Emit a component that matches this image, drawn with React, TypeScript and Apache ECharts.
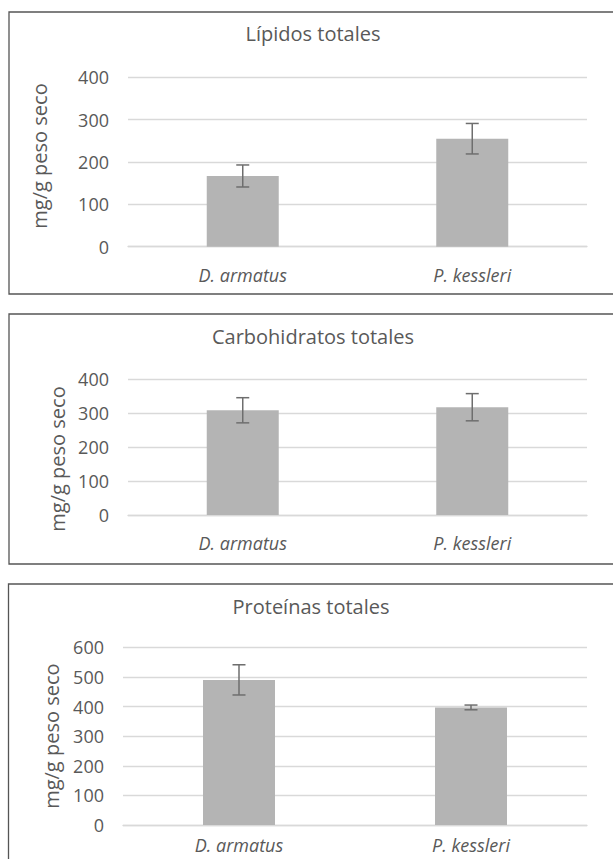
import React, { useEffect, useRef } from "react";
import * as echarts from "echarts";

const categories = ["D. armatus", "P. kessleri"];
const titles = ["Lípidos totales", "Carbohidratos totales", "Proteínas totales"];
const lipidos = [167, 255];
const lipidosErr = [26, 36];
const carbohidratos = [308, 317];
const carbohidratosErr = [37, 40];
const proteinas = [490, 397];
const proteinasErr = [51, 8];
const yMax = [400, 400, 600];
const yName = "mg/g peso seco";

const FONT = "Open Sans";
const TEXT = "#595959";
const GRID = "#d9d9d9";
const BAR = "#b4b4b4";
const ERR = "#6e6e6e";

export default function App() {
  const ref = useRef<HTMLDivElement>(null);
  useEffect(() => {
    if (!ref.current) return;
    const chart = echarts.init(ref.current, undefined, { renderer: "svg" });
    const values = [lipidos, carbohidratos, proteinas];
    const errs = [lipidosErr, carbohidratosErr, proteinasErr];
    const grids = [
      { left: 128, right: 26, top: 77.3, height: 169.4 },
      { left: 128, right: 26, top: 379, height: 136 },
      { left: 123, right: 26, top: 647.3, height: 177.7 },
    ];
    const nameGaps = [79, 57, 62];
    const namePads = [
      [0, 0, 0, 12],
      [0, 24, 0, 0],
      [0, 0, 0, 0],
    ];
    const labelMargins = [19, 19, 11];
    const titleY = [33, 336, 606.7];
    const titleX = [313, 313, 311];
    const borders = [
      { x: 9, y: 12, height: 282 },
      { x: 9, y: 314, height: 250 },
      { x: 8.5, y: 584, height: 400 },
    ];
    const option: any = {
      animation: false,
      backgroundColor: "#ffffff",
      textStyle: { fontFamily: FONT },
      title: titles.map((t, i) => ({
        text: t,
        left: titleX[i],
        top: titleY[i] - 12,
        textAlign: "center",
        padding: 0,
        textStyle: { fontFamily: FONT, fontSize: 20, fontWeight: "normal", color: TEXT, lineHeight: 24 },
      })),
      graphic: borders.map((b) => ({
        type: "rect",
        silent: true,
        shape: { x: b.x, y: b.y, width: 700, height: b.height },
        style: { fill: "none", stroke: "#555555", lineWidth: 1.3 },
      })),
      grid: grids,
      xAxis: grids.map((_, i) => ({
        type: "category",
        gridIndex: i,
        data: categories,
        axisTick: { show: false },
        axisLine: { lineStyle: { color: GRID, width: 1.3 } },
        axisLabel: {
          fontFamily: FONT,
          fontStyle: "italic",
          fontSize: 18,
          lineHeight: 18,
          color: TEXT,
          margin: labelMargins[i],
        },
      })),
      yAxis: grids.map((_, i) => ({
        type: "value",
        gridIndex: i,
        min: 0,
        max: yMax[i],
        interval: 100,
        axisLine: { show: false },
        axisTick: { show: false },
        splitLine: { lineStyle: { color: GRID, width: 1.3 } },
        axisLabel: { fontFamily: FONT, fontSize: 18, color: TEXT, margin: 19 },
        name: yName,
        nameLocation: "middle",
        nameGap: nameGaps[i],
        nameTextStyle: { fontFamily: FONT, fontSize: 20, color: TEXT, padding: namePads[i] },
      })),
      series: [
        ...values.map((v, i) => ({
          type: "bar",
          xAxisIndex: i,
          yAxisIndex: i,
          data: v,
          barWidth: 72,
          itemStyle: { color: BAR },
        })),
        ...values.map((v, i) => ({
          type: "custom",
          xAxisIndex: i,
          yAxisIndex: i,
          data: v.map((val, j) => [j, val - errs[i][j], val + errs[i][j]]),
          renderItem: (params: any, api: any) => {
            const idx = api.value(0);
            const lo = api.coord([idx, api.value(1)]);
            const hi = api.coord([idx, api.value(2)]);
            const half = 6.5;
            const style = { stroke: ERR, lineWidth: 1.5 };
            return {
              type: "group",
              children: [
                { type: "line", shape: { x1: lo[0], y1: lo[1], x2: hi[0], y2: hi[1] }, style },
                { type: "line", shape: { x1: hi[0] - half, y1: hi[1], x2: hi[0] + half, y2: hi[1] }, style },
                { type: "line", shape: { x1: lo[0] - half, y1: lo[1], x2: lo[0] + half, y2: lo[1] }, style },
              ],
            };
          },
          z: 5,
        })),
      ],
    };
    chart.setOption(option);
    return () => chart.dispose();
  }, []);
  return (
    <div
      ref={ref}
      style={{ position: "fixed", left: 0, top: 0, width: 613, height: 859, background: "#fff" }}
    />
  );
}
